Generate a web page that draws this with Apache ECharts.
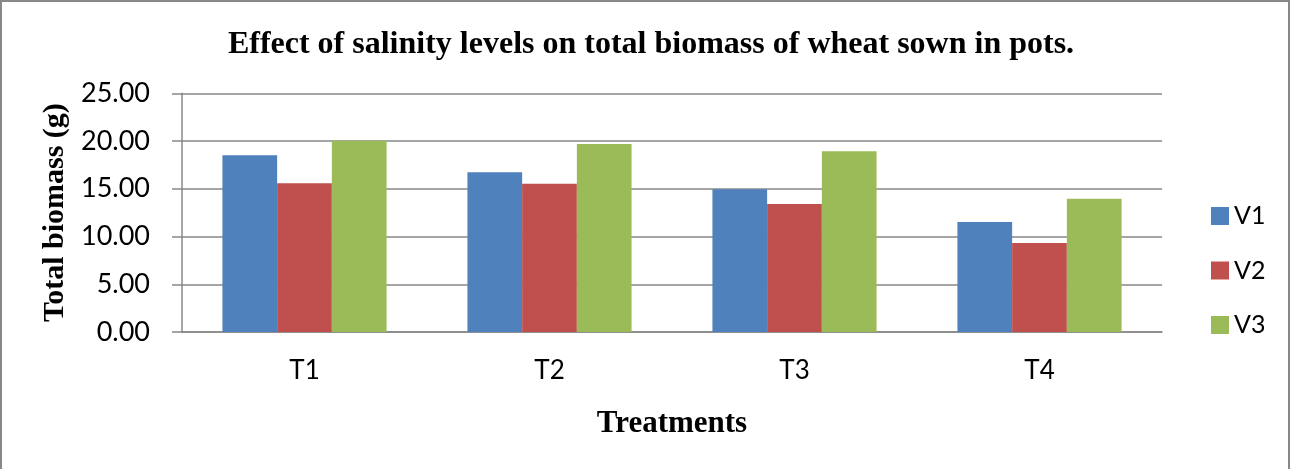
<!DOCTYPE html>
<html>
<head>
<meta charset="utf-8">
<script src="https://cdn.jsdelivr.net/npm/echarts@6/dist/echarts.min.js"></script>
<style>html,body{margin:0;padding:0;background:#fff;}#c{width:1291px;height:469px;}</style>
</head>
<body>
<div id="c"></div>
<script>
const categories = ['T1', 'T2', 'T3', 'T4'];
const seriesNames = ['V1', 'V2', 'V3'];
const v1 = [18.50, 16.72, 14.94, 11.52];
const v2 = [15.57, 15.53, 13.40, 9.32];
const v3 = [20.03, 19.69, 18.92, 13.96];
const colors = ['#4F81BD', '#C0504D', '#9BBB59'];

const chart = echarts.init(document.getElementById('c'), null, {renderer: 'canvas'});
const serif = '"Liberation Serif", "Times New Roman", serif';
const sans = 'Lato, "Open Sans", sans-serif';
chart.setOption({
  animation: false,
  color: colors,
  graphic: [{
    type: 'rect', shape: {x: 1, y: 1, width: 1288, height: 490},
    style: {fill: 'none', stroke: '#888888', lineWidth: 2}, silent: true
  }],
  title: {
    text: 'Effect of salinity levels on total biomass of wheat sown in pots.',
    left: 646, textAlign: 'center', top: 24,
    textStyle: {fontFamily: serif, fontWeight: 'bold', fontSize: 32, color: '#000'}
  },
  legend: {
    orient: 'vertical', left: 1206, top: 198,
    itemWidth: 18, itemHeight: 18, itemGap: 28.5,
    icon: 'rect',
    textStyle: {fontFamily: sans, fontSize: 25, color: '#000', lineHeight: 26},
    data: seriesNames
  },
  grid: {left: 182, right: 129, top: 93.3, bottom: 137, containLabel: false},
  xAxis: {
    type: 'category', data: categories,
    axisLine: {lineStyle: {color: '#888888', width: 1.5}},
    axisTick: {show: false},
    axisLabel: {fontFamily: sans, fontSize: 26, color: '#000', margin: 26},
    name: 'Treatments', nameLocation: 'middle', nameGap: 76,
    nameTextStyle: {fontFamily: serif, fontWeight: 'bold', fontSize: 31, color: '#000'}
  },
  yAxis: {
    type: 'value', min: 0, max: 25, interval: 5,
    axisLine: {show: true, lineStyle: {color: '#888888', width: 1.5}},
    axisTick: {show: true, length: 10, lineStyle: {color: '#888888', width: 1.5}},
    splitLine: {lineStyle: {color: '#888888', width: 1.5}},
    axisLabel: {fontFamily: sans, fontSize: 27, color: '#000', margin: 32,
      formatter: v => v.toFixed(2)},
    name: 'Total biomass (g)', nameLocation: 'middle', nameGap: 110,
    nameTextStyle: {fontFamily: serif, fontWeight: 'bold', fontSize: 30, color: '#000'}
  },
  series: [
    {name: seriesNames[0], type: 'bar', data: v1, barGap: '0%', barCategoryGap: '33%'},
    {name: seriesNames[1], type: 'bar', data: v2, barGap: '0%', barCategoryGap: '33%'},
    {name: seriesNames[2], type: 'bar', data: v3, barGap: '0%', barCategoryGap: '33%'}
  ]
});
</script>
</body>
</html>
